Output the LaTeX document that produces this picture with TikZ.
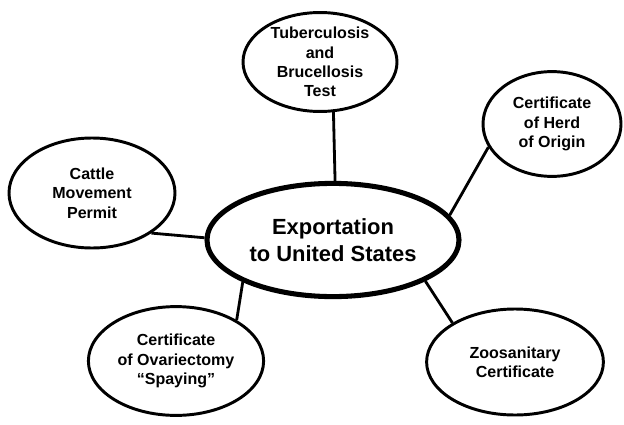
\documentclass[tikz,border=0pt]{standalone}
\usepackage{fontspec}
\setmainfont{Liberation Sans}
\usepackage{tikz}
\usetikzlibrary{shapes.geometric}

\tikzset{
    doc/.style={ellipse, draw, line width=2.1pt, inner sep=0pt, align=center,
        font=\fontsize{11.4}{13.8}\selectfont\bfseries},
    hub/.style={ellipse, draw, line width=3.6pt, inner sep=0pt, align=center,
        minimum width=6.3cm, minimum height=2.83cm,
        font=\fontsize{15.6}{19.2}\selectfont\bfseries},
    link/.style={line width=2pt}
}

\begin{document}
\begin{tikzpicture}
        \useasboundingbox (0,0) rectangle (15.6,-10.6);

        % center
        \node[hub] (export) at (8.325,-6.0) {Exportation\\to United States};

        % requirements
        \node[doc, minimum width=3.85cm, minimum height=2.45cm] (tbtest) at (8.0,-1.55) {Tuberculosis\\and\\Brucellosis\\Test};
        \node[doc, minimum width=3.45cm, minimum height=2.62cm] (herd) at (13.8,-3.1) {Certificate\\of Herd\\of Origin};
        \node[doc, minimum width=4.15cm, minimum height=2.75cm] (permit) at (2.3,-4.825) {Cattle\\Movement\\Permit};
        \node[doc, minimum width=4.38cm, minimum height=2.72cm] (spaying) at (4.4,-9.025) {Certificate\\of Ovariectomy\\“Spaying”};
        \node[doc, minimum width=4.42cm, minimum height=2.65cm] (zoo) at (12.875,-9.05) {Zoosanitary\\Certificate};

        % links to the center
        \draw[link] (export.88) -- (tbtest.-75);
        \draw[link] (export.12) -- (herd.-160);
        \draw[link] (export.179) -- (permit.-34);
        \draw[link] (export.205) -- (spaying.34);
        \draw[link] (export.-24) -- (zoo.148);
\end{tikzpicture}
\end{document}
